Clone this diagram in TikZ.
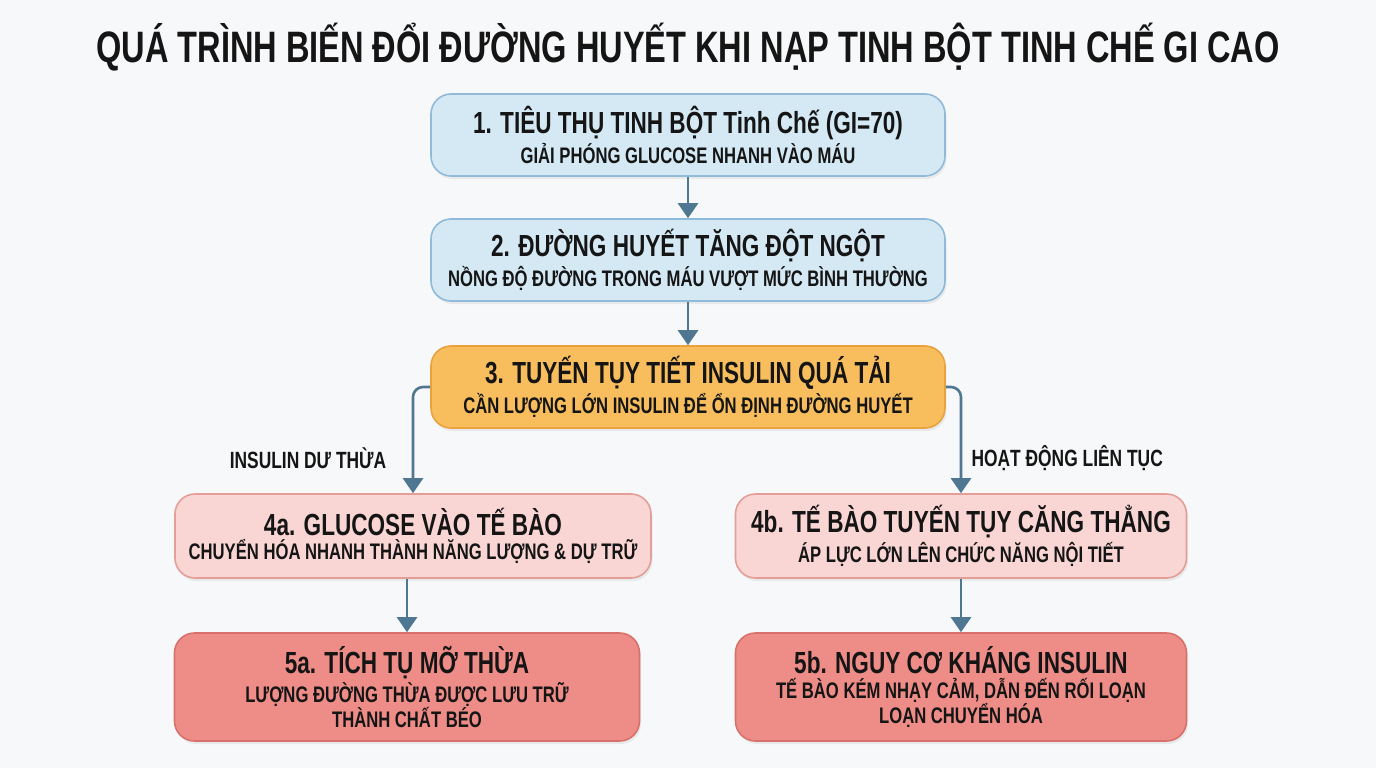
\documentclass[tikz,border=0pt]{standalone}
\usepackage{fontspec}
\setmainfont{Liberation Sans}[FakeStretch=0.74]
\usetikzlibrary{shadows,arrows.meta}
\definecolor{bgc}{HTML}{F7F8F9}
\definecolor{bluef}{HTML}{D5E9F5}
\definecolor{blued}{HTML}{8FBAD8}
\definecolor{orf}{HTML}{F8BE5E}
\definecolor{ord}{HTML}{E9A23E}
\definecolor{pinkf}{HTML}{F9D6D4}
\definecolor{pinkd}{HTML}{E39E98}
\definecolor{redf}{HTML}{EE8D87}
\definecolor{redd}{HTML}{D8716B}
\definecolor{arrc}{HTML}{4F7792}
\definecolor{txt}{HTML}{151515}
\newcommand{\subf}{\fontsize{22.5}{26}\selectfont\bfseries}
\newcommand{\bxt}[2]{\fontsize{30.5}{33}\selectfont\bfseries #1\\[3pt]\subf #2}
\tikzset{
  box/.style={rounded corners=20pt, draw=#1, line width=1.6pt, align=center, text=txt,
    drop shadow={opacity=0.12, shadow xshift=1.5pt, shadow yshift=-3pt}},
  conn/.style={draw=arrc, line width=2.6pt, -{Triangle[length=15pt,width=20pt]}},
  lbl/.style={text=txt, font=\fontsize{23.5}{26}\selectfont\bfseries}
}
\begin{document}
\begin{tikzpicture}[x=1pt,y=-1pt]
\fill[bgc] (0,0) rectangle (1376,768);
\useasboundingbox (0,0) rectangle (1376,768);
\node[text=txt, font=\fontsize{44}{48}\selectfont\bfseries] (title) at (688,47) {QUÁ TRÌNH BIẾN ĐỔI ĐƯỜNG HUYẾT KHI NẠP TINH BỘT TINH CHẾ GI CAO};
\node[box=blued, fill=bluef, minimum width=514pt, minimum height=82pt] (b1) at (688,135)
  {\bxt{1. TIÊU THỤ TINH BỘT Tinh Chế (GI=70)}{GIẢI PHÓNG GLUCOSE NHANH VÀO MÁU}};
\node[box=blued, fill=bluef, minimum width=514pt, minimum height=82pt] (b2) at (688,260)
  {\bxt{2. ĐƯỜNG HUYẾT TĂNG ĐỘT NGỘT}{NỒNG ĐỘ ĐƯỜNG TRONG MÁU VƯỢT MỨC BÌNH THƯỜNG}};
\node[box=ord, fill=orf, minimum width=514pt, minimum height=82pt] (b3) at (688,387)
  {\bxt{3. TUYẾN TỤY TIẾT INSULIN QUÁ TẢI}{CẦN LƯỢNG LỚN INSULIN ĐỂ ỔN ĐỊNH ĐƯỜNG HUYẾT}};
\node[box=pinkd, fill=pinkf, minimum width=476pt, minimum height=84pt] (b4a) at (413,536)
  {\bxt{4a. GLUCOSE VÀO TẾ BÀO}{CHUYỂN HÓA NHANH THÀNH NĂNG LƯỢNG \& DỰ TRỮ}};
\node[box=pinkd, fill=pinkf, minimum width=451pt, minimum height=84pt] (b4b) at (961,536)
  {\bxt{4b. TẾ BÀO TUYẾN TỤY CĂNG THẲNG}{ÁP LỰC LỚN LÊN CHỨC NĂNG NỘI TIẾT}};
\node[box=redd, fill=redf, minimum width=465pt, minimum height=108pt] (b5a) at (407,687)
  {\bxt{5a. TÍCH TỤ MỠ THỪA}{LƯỢNG ĐƯỜNG THỪA ĐƯỢC LƯU TRỮ\\\subf THÀNH CHẤT BÉO}};
\node[box=redd, fill=redf, minimum width=451pt, minimum height=108pt] (b5b) at (961,687)
  {\bxt{5b. NGUY CƠ KHÁNG INSULIN}{TẾ BÀO KÉM NHẠY CẢM, DẪN ĐẾN RỐI LOẠN\\\subf LOẠN CHUYỂN HÓA}};
\draw[conn] (b1) -- (b2);
\draw[conn] (b2) -- (b3);
\draw[conn, rounded corners=10pt] (b3.west) -| (b4a.north);
\draw[conn, rounded corners=10pt] (b3.east) -| (b4b.north);
\draw[conn] (b5a.north |- b4a.south) -- (b5a.north);
\draw[conn] (b4b) -- (b5b);
\node[lbl] (l1) at (308,458) {INSULIN DƯ THỪA};
\node[lbl, anchor=west] (l2) at (968,458) {HOẠT ĐỘNG LIÊN TỤC};
\end{tikzpicture}
\end{document}
